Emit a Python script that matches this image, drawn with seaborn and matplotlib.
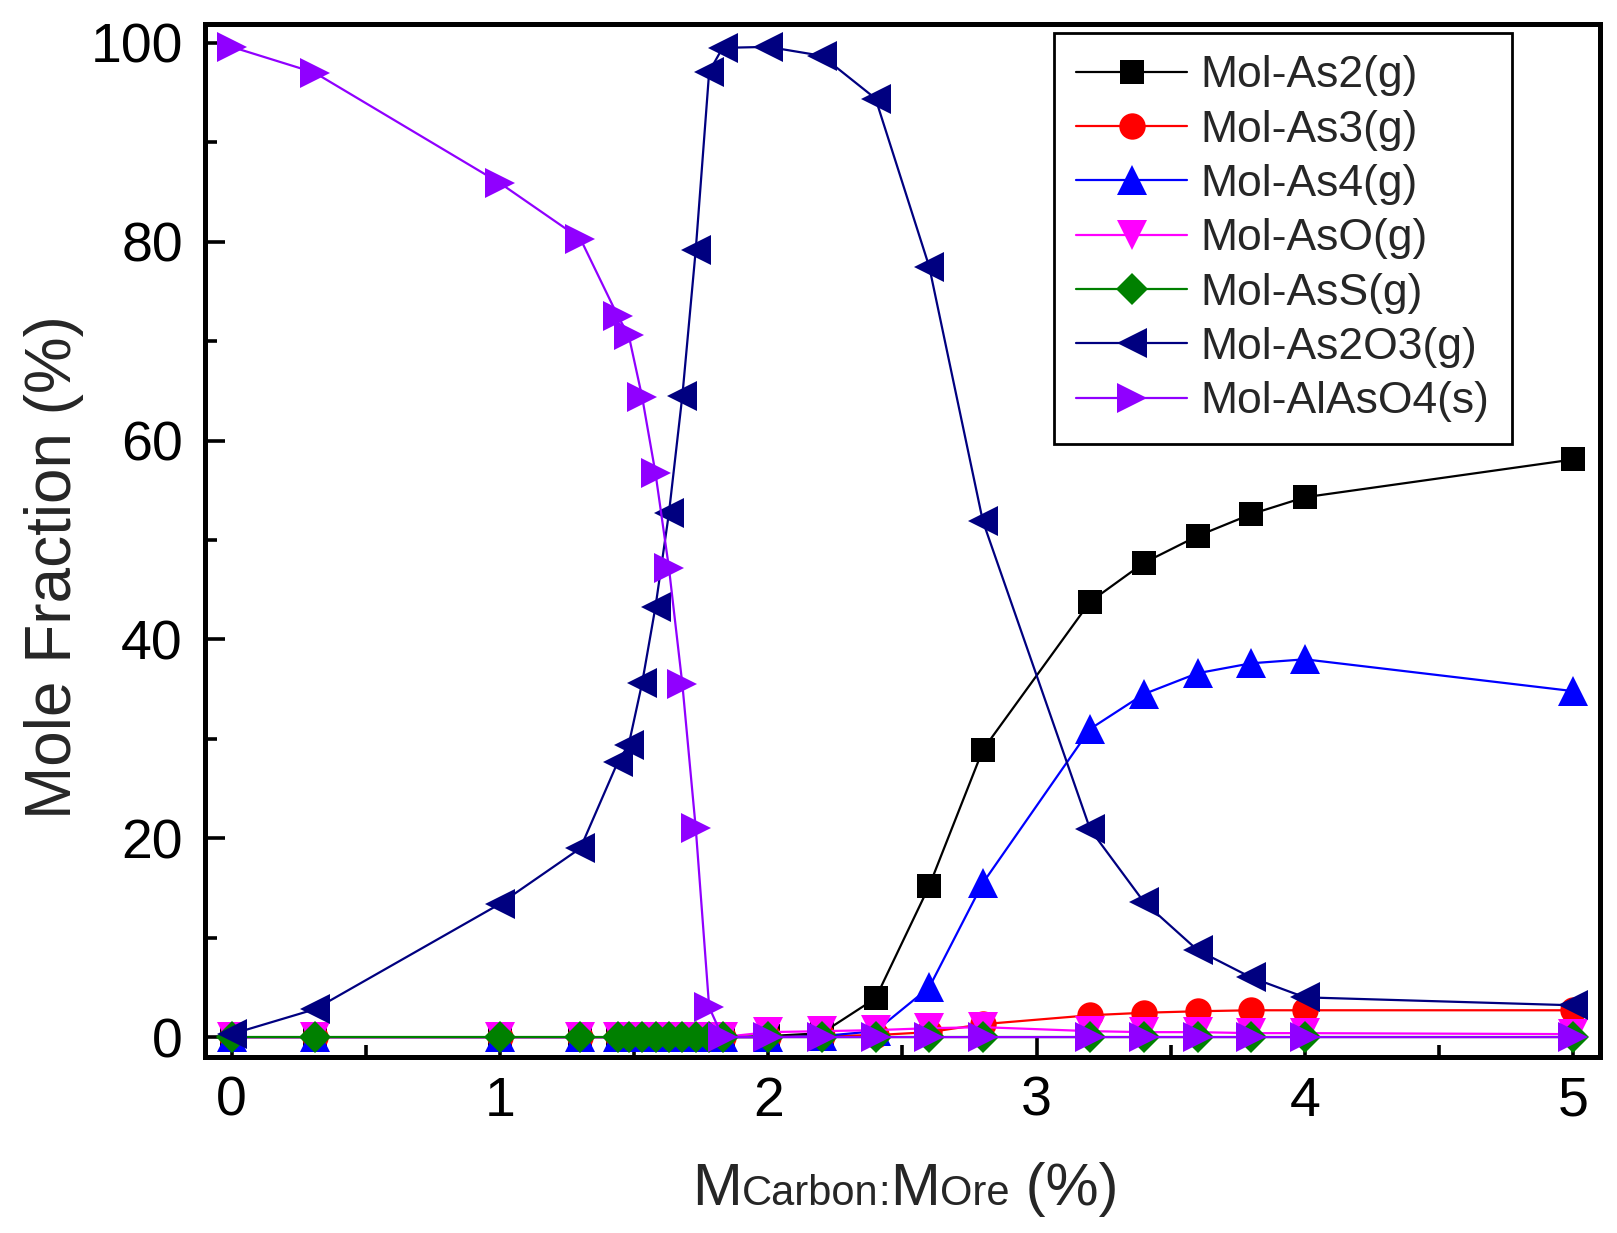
import numpy as np
import pandas as pd
import matplotlib
matplotlib.use("Agg")
import matplotlib.pyplot as plt
from matplotlib.ticker import MultipleLocator
import seaborn as sns

# ── Data ───────────────────────────────────────────────────────────────────
ratio = [0, 0.31, 1.0, 1.3, 1.44, 1.48, 1.53, 1.58, 1.63, 1.68, 1.73, 1.78,
         1.83, 2.0, 2.2, 2.4, 2.6, 2.8, 3.2, 3.4, 3.6, 3.8, 4.0, 5.0]

as2    = [0, 0, 0, 0, 0, 0, 0, 0, 0, 0, 0, 0,
          0, 0.1, 0.4, 3.9, 15.2, 28.9, 43.8, 47.7, 50.4, 52.6, 54.3, 58.1]
as3    = [0, 0, 0, 0, 0, 0, 0, 0, 0, 0, 0, 0,
          0, 0.0, 0.1, 0.2, 0.5, 1.3, 2.2, 2.45, 2.6, 2.7, 2.7, 2.7]
as4    = [0, 0, 0, 0, 0, 0, 0, 0, 0, 0, 0, 0,
          0, 0.0, 0.1, 0.6, 5.0, 15.5, 31.0, 34.5, 36.6, 37.6, 38.0, 34.8]
aso    = [0, 0, 0, 0, 0, 0, 0, 0, 0, 0, 0, 0,
          0, 0.5, 0.6, 0.7, 0.9, 1.0, 0.6, 0.5, 0.5, 0.4, 0.4, 0.3]
ass    = [0, 0, 0, 0, 0, 0, 0, 0, 0, 0, 0, 0,
          0, 0, 0, 0, 0, 0, 0, 0, 0, 0, 0, 0]
as2o3  = [0.3, 2.8, 13.4, 19.0, 27.7, 29.4, 35.6, 43.3, 52.7, 64.5, 79.2, 97.1,
          99.5, 99.6, 98.7, 94.4, 77.5, 51.9, 20.9, 13.6, 8.75, 6.0, 4.0, 3.2]
alaso4 = [99.6, 97.0, 85.9, 80.3, 72.5, 70.6, 64.4, 56.7, 47.2, 35.5, 21.0, 3.0,
          0, 0, 0, 0, 0, 0, 0, 0, 0, 0, 0, 0]

series_names = ["Mol-As2(g)", "Mol-As3(g)", "Mol-As4(g)", "Mol-AsO(g)",
                "Mol-AsS(g)", "Mol-As2O3(g)", "Mol-AlAsO4(s)"]
series_vals = [as2, as3, as4, aso, ass, as2o3, alaso4]
colors  = ["#000000", "#FF0000", "#0000FF", "#FF00FF", "#008000", "#000080", "#9000FF"]
markers = ["s", "o", "^", "v", "D", "<", ">"]
msizes  = [17, 19, 21, 21, 16, 21, 21]

df = pd.concat([pd.DataFrame({"x": ratio, "y": v, "series": n})
                for n, v in zip(series_names, series_vals)], ignore_index=True)

# ── Style ──────────────────────────────────────────────────────────────────
sns.set_style("ticks")
plt.rcParams["font.family"] = ["Liberation Sans", "DejaVu Sans"]

fig = plt.figure(figsize=(16.17, 12.33), dpi=100)
ax = fig.add_axes([205 / 1617, 1 - 1057 / 1233, 1395 / 1617, 1033 / 1233])

sns.lineplot(data=df, x="x", y="y", hue="series", style="series",
             hue_order=series_names, style_order=series_names,
             palette=dict(zip(series_names, colors)),
             markers=dict(zip(series_names, markers)), dashes=False,
             linewidth=1.6, sort=False, ax=ax, legend=False)

for line, c, ms in zip(ax.lines, colors, msizes):
    line.set_markersize(ms)
    line.set_markeredgecolor(c)
    line.set_markerfacecolor(c)
    line.set_markeredgewidth(0)

ax.set_xlim(-0.099, 5.10)
ax.set_ylim(-2.0, 101.9)
ax.xaxis.set_major_locator(MultipleLocator(1))
ax.xaxis.set_minor_locator(MultipleLocator(0.5))
ax.yaxis.set_major_locator(MultipleLocator(20))
ax.yaxis.set_minor_locator(MultipleLocator(10))

for sp in ax.spines.values():
    sp.set_visible(True)
    sp.set_linewidth(3.6)
    sp.set_color("black")

ax.tick_params(which="both", direction="in", top=False, right=False, colors="black")
ax.tick_params(which="major", length=14.5, width=2.6, labelsize=40)
ax.tick_params(which="minor", length=8.5, width=2.6)
ax.tick_params(axis="x", which="major", pad=13.5)
ax.tick_params(axis="y", which="major", pad=16)

ax.set_xlabel("")
ax.set_ylabel("")
fig.text(54 / 1617, 0.540, "Mole Fraction (%)", rotation=90,
         ha="center", va="center", fontsize=46)

# x label built from pieces so the small "Carbon"/"Ore" sit on the baseline
base_y = 1 - 1205 / 1233
t = fig.text(692 / 1617, base_y, "M", fontsize=43, va="baseline", ha="left")
for txt, fs in [("Carbon", 30), (":", 30), ("M", 43), ("Ore", 30), (" (%)", 43)]:
    t = ax.annotate(txt, xy=(1, base_y), xycoords=(t, "figure fraction"),
                    fontsize=fs, va="baseline", ha="left", annotation_clip=False)

leg = ax.legend(handles=ax.lines[:7], labels=series_names, loc="upper left",
                bbox_to_anchor=(0.6086, 0.9913), borderaxespad=0,
                fontsize=32, frameon=True, fancybox=False, shadow=False,
                borderpad=0.5, labelspacing=0.30, handlelength=2.5,
                handletextpad=0.3, framealpha=1)
leg.get_frame().set_edgecolor("black")
leg.get_frame().set_linewidth(2.0)

fig.savefig("out.png", dpi=100)
plt.close(fig)
